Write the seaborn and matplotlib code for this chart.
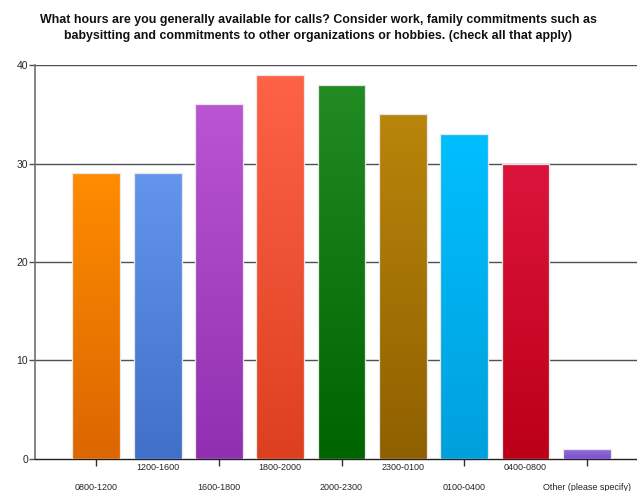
import numpy as np
import pandas as pd
import seaborn as sns
import matplotlib
matplotlib.use("Agg")
import matplotlib.pyplot as plt
from matplotlib.colors import LinearSegmentedColormap

categories = ["0800-1200", "1200-1600", "1600-1800", "1800-2000", "2000-2300",
              "2300-0100", "0100-0400", "0400-0800", "Other (please specify)"]
values = [29, 29, 36, 39, 38, 35, 33, 30, 1]
top_colors = ["#FF8C00", "#6495ED", "#BA55D3", "#FF6347", "#228B22",
              "#B8860B", "#00BFFF", "#DC143C", "#9370DB"]
bottom_colors = ["#DC6600", "#4070C8", "#9030B0", "#DC4020", "#006400",
                 "#906000", "#00A0DC", "#BC0018", "#7850C8"]
title = ("What hours are you generally available for calls? Consider work, family commitments such as\n"
         "babysitting and commitments to other organizations or hobbies. (check all that apply)")

sns.set_theme(style="white")
plt.rcParams['font.family'] = ['Liberation Sans', 'DejaVu Sans']

fig = plt.figure(figsize=(6.37, 4.91), dpi=100)
ax = fig.add_axes([0.055, 0.0652, 0.945, 0.8024])

df = pd.DataFrame({"cat": categories, "val": values})
sns.barplot(data=df, x="cat", y="val", hue="cat", palette=top_colors,
            legend=False, width=0.78, ax=ax, zorder=3)

for i, p in enumerate(ax.patches):
    x0, y0 = p.get_x(), p.get_y()
    w, h = p.get_width(), p.get_height()
    cmap = LinearSegmentedColormap.from_list("g", [bottom_colors[i], top_colors[i]])
    grad = np.linspace(0, 1, 256).reshape(-1, 1)
    im = ax.imshow(grad, cmap=cmap, aspect="auto", origin="lower",
                   extent=[x0, x0 + w, y0, y0 + h], zorder=3.5)
    im.set_clip_path(p)
    p.set_edgecolor("#e8e8e8")
    p.set_linewidth(0.9)
    p.set_zorder(4)
    p.set_facecolor("none")

ax.set_xlim(-1, 8.82)
ax.set_ylim(0, 40)
ax.set_yticks([0, 10, 20, 30, 40])
for yv in [10, 20, 30, 40]:
    ax.axhline(yv, color="#505050", lw=1, zorder=1)

ax.set_xlabel("")
ax.set_ylabel("")

n = len(categories)
even = list(range(0, n, 2))
odd = list(range(1, n, 2))
ax.set_xticks(even)
ax.set_xticklabels([categories[i] for i in even], fontsize=6.5)
ax.set_xticks(odd, minor=True)
ax.set_xticklabels([categories[i] for i in odd], minor=True, fontsize=6.5)
ax.tick_params(axis="x", which="major", direction="out", length=5, width=1,
               color="#303030", pad=12, bottom=True)
ax.tick_params(axis="x", which="minor", length=0, pad=3, bottom=True)
ax.tick_params(axis="y", direction="out", length=4, width=1, color="#505050",
               labelsize=7.5, pad=1, left=True)

for s in ["top", "right"]:
    ax.spines[s].set_visible(False)
ax.spines["left"].set_color("#707070")
ax.spines["left"].set_linewidth(1.2)
ax.spines["bottom"].set_color("#202020")
ax.spines["bottom"].set_linewidth(1)

fig.text(0.5, 0.972, title, ha="center", va="top", fontsize=8.95,
         fontweight="bold", color="#111111", linespacing=1.45)

fig.savefig("out.png", dpi=100)
